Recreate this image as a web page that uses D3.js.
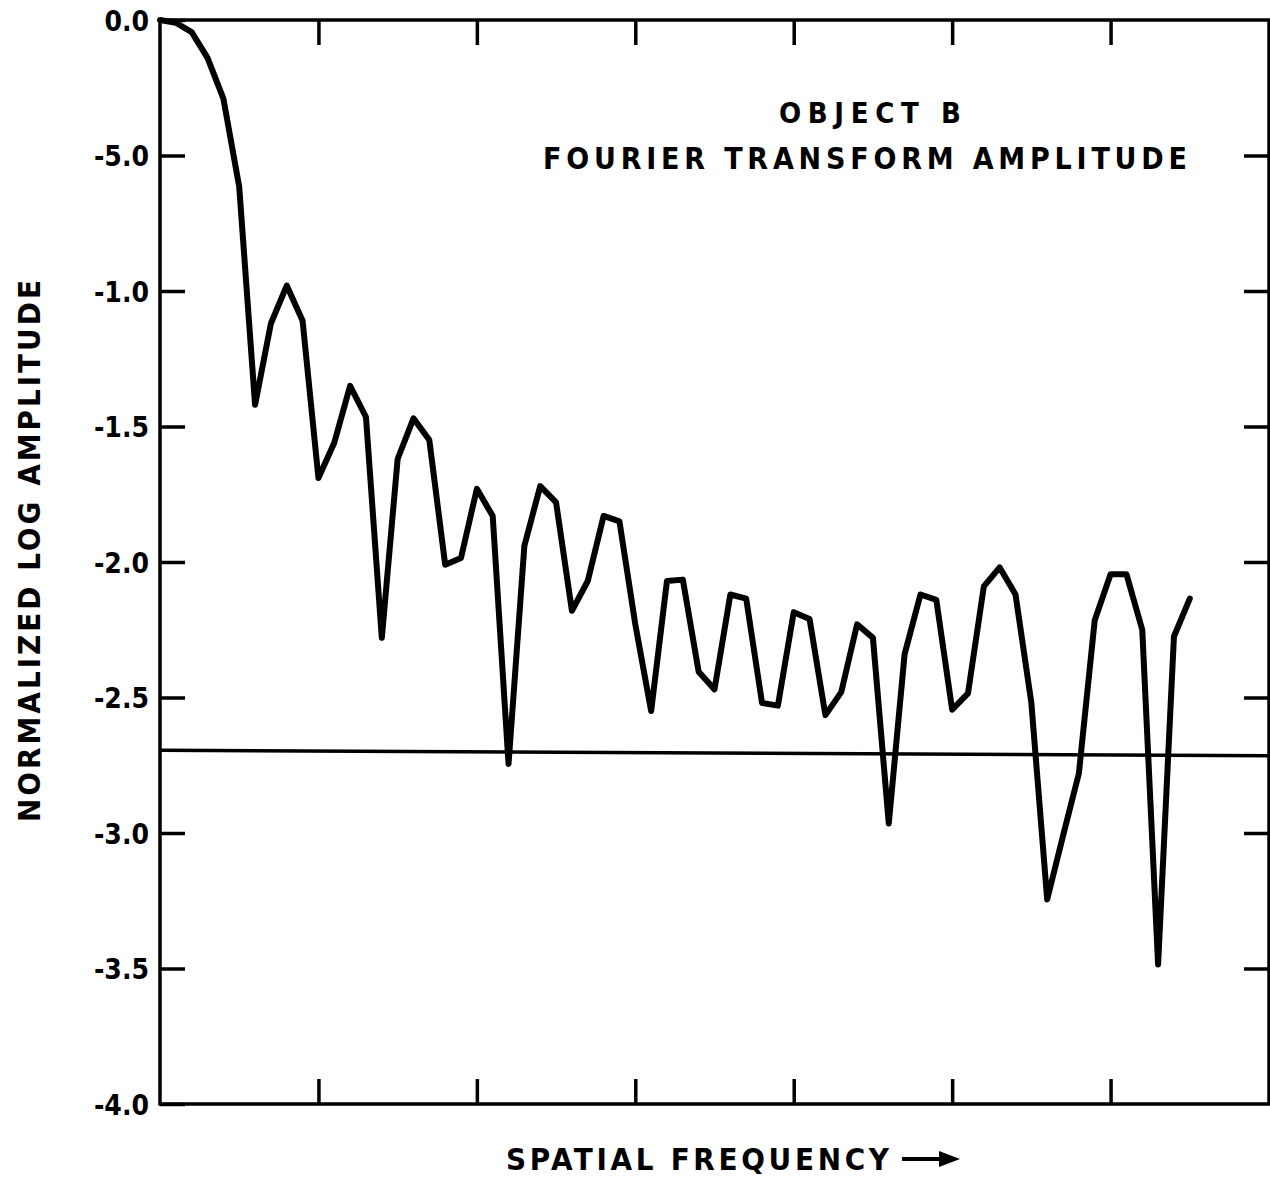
<!DOCTYPE html>
<html>
<head>
<meta charset="utf-8">
<script src="https://cdn.jsdelivr.net/npm/d3@7"></script>
<style>
  body { margin: 0; background: #fff; }
  text { font-family: "DejaVu Sans Condensed", "DejaVu Sans", sans-serif; font-weight: bold; fill: #000; }
</style>
</head>
<body>
<div id="wrapper"></div>
<script>
// Log amplitude, one sample per 0.1 of a tick interval.
const amplitude = [
  0.0, -0.01, -0.045, -0.14, -0.29, -0.615, -1.42, -1.12, -0.98, -1.11,
  -1.69, -1.56, -1.35, -1.465, -2.28, -1.62, -1.47, -1.55, -2.01, -1.985,
  -1.73, -1.83, -2.745, -1.94, -1.72, -1.78, -2.18, -2.07, -1.83, -1.85,
  -2.23, -2.55, -2.07, -2.065, -2.405, -2.47, -2.12, -2.135, -2.52, -2.53,
  -2.185, -2.21, -2.565, -2.48, -2.23, -2.28, -2.965, -2.34, -2.12, -2.14,
  -2.545, -2.485, -2.09, -2.02, -2.12, -2.52, -3.245, -3.01, -2.78, -2.215,
  -2.045, -2.045, -2.25, -3.485, -2.275, -2.135
]
const sampleStep = 0.1
// Horizontal reference level (slightly tilted in the scan), at left and right edge.
const thresholdLevel = [-2.695, -2.715]

const yTicks = [0, -0.5, -1.0, -1.5, -2.0, -2.5, -3.0, -3.5, -4.0]
// the printed labels (the -0.5 one is printed as "-5.0" in the original)
const yTickLabels = ["0.0", "-5.0", "-1.0", "-1.5", "-2.0", "-2.5", "-3.0", "-3.5", "-4.0"]
const xTicks = [1, 2, 3, 4, 5, 6]

const titleLines = ["OBJECT B", "FOURIER TRANSFORM AMPLITUDE"]
const xLabel = "SPATIAL FREQUENCY"
const yLabel = "NORMALIZED LOG AMPLITUDE"

const xAccessor = (d, i) => i * sampleStep
const yAccessor = d => d

const dimensions = {
  width: 1270,
  height: 1184,
  margin: { top: 20, right: 1, bottom: 80, left: 160 },
}
dimensions.boundedWidth = dimensions.width - dimensions.margin.left - dimensions.margin.right
dimensions.boundedHeight = dimensions.height - dimensions.margin.top - dimensions.margin.bottom

const wrapper = d3.select("#wrapper")
  .append("svg")
    .attr("width", dimensions.width)
    .attr("height", dimensions.height)

const bounds = wrapper.append("g")
  .attr("transform", `translate(${dimensions.margin.left},${dimensions.margin.top})`)

const xScale = d3.scaleLinear()
  .domain([0, 7])
  .range([0, dimensions.boundedWidth])

const yScale = d3.scaleLinear()
  .domain([0, -4])
  .range([0, dimensions.boundedHeight])

// axes: ticks point inward on all four sides
const styleAxis = g => {
  g.select(".domain").remove()
  g.selectAll(".tick line").attr("stroke", "#000").attr("stroke-width", 3.5)
}

bounds.append("g")
  .call(d3.axisLeft(yScale).tickValues(yTicks).tickSizeInner(-25).tickSizeOuter(0)
    .tickPadding(11).tickFormat((d, i) => yTickLabels[i]))
  .call(styleAxis)
  .call(g => g.selectAll(".tick text")
    .attr("font-size", 28).attr("font-family", null).attr("dy", "0.36em"))

bounds.append("g")
  .attr("transform", `translate(${dimensions.boundedWidth},0)`)
  .call(d3.axisRight(yScale).tickValues(yTicks.slice(1, -1)).tickSizeInner(-25).tickSizeOuter(0).tickFormat(""))
  .call(styleAxis)

bounds.append("g")
  .call(d3.axisTop(xScale).tickValues(xTicks).tickSizeInner(-25).tickSizeOuter(0).tickFormat(""))
  .call(styleAxis)

bounds.append("g")
  .attr("transform", `translate(0,${dimensions.boundedHeight})`)
  .call(d3.axisBottom(xScale).tickValues(xTicks).tickSizeInner(-25).tickSizeOuter(0).tickFormat(""))
  .call(styleAxis)

// frame
bounds.append("rect")
  .attr("width", dimensions.boundedWidth)
  .attr("height", dimensions.boundedHeight)
  .attr("fill", "none")
  .attr("stroke", "#000")
  .attr("stroke-width", 3.5)

// threshold line
bounds.append("line")
  .attr("x1", xScale(0)).attr("x2", xScale(7))
  .attr("y1", yScale(thresholdLevel[0])).attr("y2", yScale(thresholdLevel[1]))
  .attr("stroke", "#000")
  .attr("stroke-width", 3.5)

const lineGenerator = d3.line()
  .x((d, i) => xScale(xAccessor(d, i)))
  .y(d => yScale(yAccessor(d)))

bounds.append("path")
  .attr("d", lineGenerator(amplitude))
  .attr("fill", "none")
  .attr("stroke", "#000")
  .attr("stroke-width", 6)
  .attr("stroke-linejoin", "round")
  .attr("stroke-linecap", "round")

// title block
wrapper.append("text")
  .attr("x", 870).attr("y", 123)
  .attr("text-anchor", "middle")
  .attr("font-size", 29)
  .attr("textLength", 182).attr("lengthAdjust", "spacing")
  .text(titleLines[0])

wrapper.append("text")
  .attr("x", 865).attr("y", 169)
  .attr("text-anchor", "middle")
  .attr("font-size", 30)
  .attr("textLength", 644).attr("lengthAdjust", "spacing")
  .text(titleLines[1])

// x label with arrow
wrapper.append("text")
  .attr("x", 506).attr("y", 1170)
  .attr("font-size", 31)
  .attr("textLength", 383).attr("lengthAdjust", "spacing")
  .text(xLabel)

wrapper.append("line")
  .attr("x1", 902).attr("x2", 945)
  .attr("y1", 1159).attr("y2", 1159)
  .attr("stroke", "#000").attr("stroke-width", 4)

wrapper.append("path")
  .attr("d", "M939,1151 L960,1159 L939,1167 Z")
  .attr("fill", "#000")

// y label
wrapper.append("text")
  .attr("transform", "translate(40,551) rotate(-90)")
  .attr("text-anchor", "middle")
  .attr("font-size", 31)
  .attr("textLength", 542).attr("lengthAdjust", "spacing")
  .text(yLabel)
</script>
</body>
</html>
